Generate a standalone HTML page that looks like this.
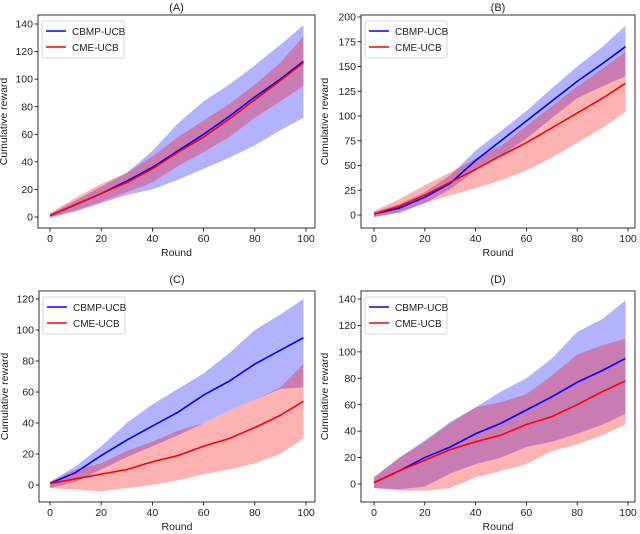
<!DOCTYPE html>
<html><head><meta charset="utf-8"><style>
body{margin:0;background:#fff;}
svg{display:block;font-family:"Liberation Sans","DejaVu Sans",sans-serif;}
</style></head><body>
<svg id="fig" width="640" height="534" viewBox="0 0 640 534"></svg>
<script>
const rounds=[0,10,20,30,40,50,60,70,80,90,99];
const aBlueMean=[1,9,17,26,36,48,60,73,87,100,113];
const aBlueUp=[2,12,22,32,48,68,84,96,110,125,139];
const aBlueLo=[0,4,10,16,20,27,35,43,52,63,72];
const aRedMean=[1,9,17,25,35,47,58,71,85,99,112];
const aRedUp=[3,14,24,32,44,58,70,82,96,112,131];
const aRedLo=[-1,5,11,18,25,37,47,58,72,84,95];
const bBlueMean=[1,7,18,32,55,75,95,115,135,153,170];
const bBlueUp=[3,11,23,40,65,85,105,128,150,170,191];
const bBlueLo=[-2,2,12,26,45,60,77,98,118,130,140];
const bRedMean=[1,9,20,33,46,60,73,88,103,118,133];
const bRedUp=[4,16,30,43,57,70,90,110,130,148,165];
const bRedLo=[-2,3,12,20,27,35,45,58,73,88,104];
const cBlueMean=[1,8,19,29,38,47,58,67,78,87,95];
const cBlueUp=[2,12,25,40,52,62,72,85,100,110,120];
const cBlueLo=[-2,2,10,18,25,32,40,48,55,62,63];
const cRedMean=[1,4,7,10,15,19,25,30,37,45,54];
const cRedUp=[2,10,14,22,28,35,40,48,55,63,78];
const cRedLo=[-2,-3,-4,-2,0,3,7,10,14,20,30];
const dBlueMean=[1,10,20,28,38,46,56,66,77,86,95];
const dBlueUp=[5,20,33,47,58,70,80,95,115,125,139];
const dBlueLo=[-3,-4,-2,8,15,20,28,32,38,45,53];
const dRedMean=[1,10,18,26,32,37,45,51,60,70,78];
const dRedUp=[5,20,32,46,58,62,68,82,98,105,110];
const dRedLo=[-3,-5,-5,-3,5,10,15,25,30,37,45];
const xTicks=[0,20,40,60,80,100];
const ticksA=[0,20,40,60,80,100,120,140];
const ticksB=[0,25,50,75,100,125,150,175,200];
const ticksC=[0,20,40,60,80,100,120];
const ticksD=[0,20,40,60,80,100,120,140];

const NS="http://www.w3.org/2000/svg";
const svg=document.getElementById('fig');
function mk(tag,attrs,parent,text){const e=document.createElementNS(NS,tag);for(const k in attrs)e.setAttribute(k,attrs[k]);if(text!==undefined)e.textContent=text;(parent||svg).appendChild(e);return e;}

const panels=[
 {t:'(A)',key:'a',box:[38,15,315,228],x0:50,x1:306,yp0:217,yp1:24,v1:140,ticks:ticksA,d:[aBlueMean,aBlueUp,aBlueLo,aRedMean,aRedUp,aRedLo],ty:7,xl:256},
 {t:'(B)',key:'b',box:[361,15,635,228],x0:374,x1:628,yp0:215,yp1:17,v1:200,ticks:ticksB,d:[bBlueMean,bBlueUp,bBlueLo,bRedMean,bRedUp,bRedLo],ty:7,xl:256},
 {t:'(C)',key:'c',box:[39,291,315,502],x0:50,x1:306,yp0:485,yp1:299,v1:120,ticks:ticksC,d:[cBlueMean,cBlueUp,cBlueLo,cRedMean,cRedUp,cRedLo],ty:279,xl:530},
 {t:'(D)',key:'d',box:[361,291,635,502],x0:374,x1:628,yp0:484,yp1:299,v1:140,ticks:ticksD,d:[dBlueMean,dBlueUp,dBlueLo,dRedMean,dRedUp,dRedLo],ty:279,xl:530}
];
panels.forEach(p=>{
 const g=mk('g',{});
 
 
 const X=v=>p.x0+(p.x1-p.x0)*v/100;
 const Y=v=>p.yp0+(p.yp1-p.yp0)*v/p.v1;
 const [l,t,r,b]=p.box;
 const band=(up,lo,col,name)=>{
  let s='M'+rounds.map((x,i)=>X(x)+','+Y(up[i])).join('L');
  s+='L'+rounds.map((x,i)=>[X(x),Y(lo[i])]).reverse().map(q=>q.join(',')).join('L')+'Z';
  const e=mk('path',{d:s,fill:col,'fill-opacity':0.3,stroke:'none'},g);
  
  
 };
 const line=(m,col,name)=>{
  const e=mk('polyline',{points:rounds.map((x,i)=>X(x)+','+Y(m[i])).join(' '),fill:'none',stroke:col,'stroke-width':1.6},g);
  
  
 };
 band(p.d[1],p.d[2],'#0000ff','cbmp-ucb-band');
 band(p.d[4],p.d[5],'#ff0000','cme-ucb-band');
 line(p.d[0],'#0000ff','cbmp-ucb-line');
 line(p.d[3],'#ff0000','cme-ucb-line');
 const fr=mk('rect',{x:l,y:t,width:r-l,height:b-t,fill:'none',stroke:'#000','stroke-width':0.8},g);
 
 
 xTicks.forEach(v=>{
  mk('line',{x1:X(v),x2:X(v),y1:b,y2:b+3.5,stroke:'#000','stroke-width':0.8},g);
  const tx=mk('text',{x:X(v),y:b+14,'font-size':10.5,'text-anchor':'middle',fill:'#222'},g,String(v));
  
  
 });
 p.ticks.forEach(v=>{
  mk('line',{x1:l-3.5,x2:l,y1:Y(v),y2:Y(v),stroke:'#000','stroke-width':0.8},g);
  const tx=mk('text',{x:l-5,y:Y(v)+3.6,'font-size':10.5,'text-anchor':'end',fill:'#222'},g,String(v));
  
  
 });
 const tt=mk('text',{x:(l+r)/2,y:p.ty+4,'font-size':11,'text-anchor':'middle',fill:'#222'},g,p.t);
 
 
 const xl=mk('text',{x:(l+r)/2,y:p.xl,'font-size':10.5,'text-anchor':'middle',fill:'#222'},g,'Round');
 
 
 const yc=(t+b)/2, yx=l-(p.key==='b'||p.key==='d'?33:31);
 const yl=mk('text',{x:yx,y:yc,'font-size':10.5,'text-anchor':'middle',fill:'#222',transform:`rotate(-90 ${yx} ${yc})`},g,'Cumulative reward');
 
 
 const lg=mk('g',{},g);
 
 
 mk('rect',{x:l+4,y:t+6,width:82,height:37,rx:2,fill:'#fff','fill-opacity':0.8,stroke:'#ccc','stroke-width':0.8},lg);
 mk('line',{x1:l+8,x2:l+28,y1:t+16,y2:t+16,stroke:'#0000ff','stroke-width':1.6},lg);
 mk('line',{x1:l+8,x2:l+28,y1:t+32,y2:t+32,stroke:'#ff0000','stroke-width':1.6},lg);
 const e1=mk('text',{x:l+34,y:t+20,'font-size':10,fill:'#222'},lg,'CBMP-UCB');
 
 
 const e2=mk('text',{x:l+34,y:t+36,'font-size':10,fill:'#222'},lg,'CME-UCB');
 
 
});
</script>
</body></html>
